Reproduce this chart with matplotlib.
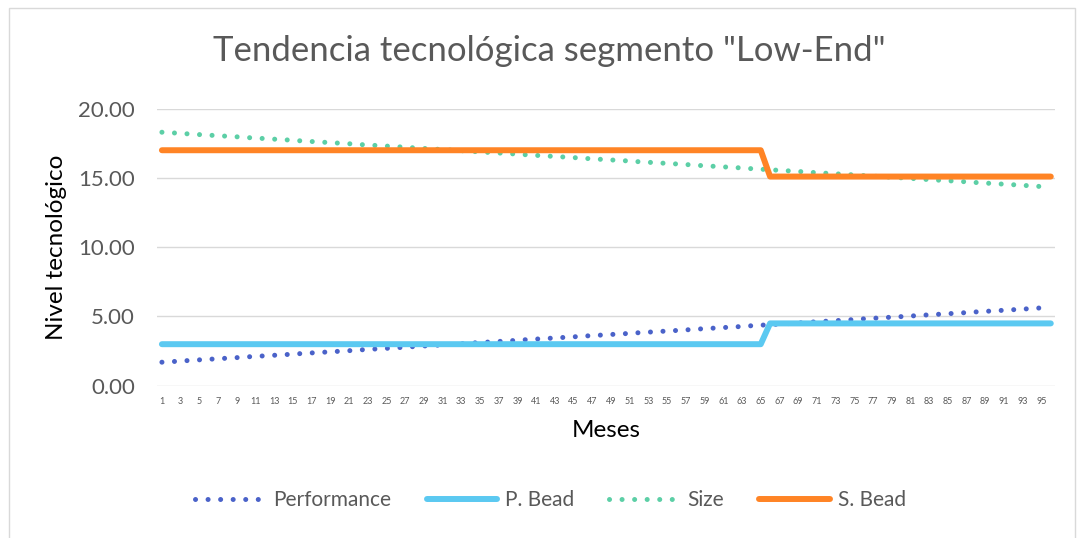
import numpy as np
import matplotlib.pyplot as plt
from matplotlib.patches import Rectangle

plt.rcParams['font.family'] = ['Lato', 'DejaVu Sans']

meses = list(range(1, 97))

performance = [
    1.70, 1.74, 1.78, 1.83, 1.87, 1.91, 1.95, 1.99, 2.03, 2.08, 2.12, 2.16,
    2.20, 2.24, 2.28, 2.33, 2.37, 2.41, 2.45, 2.49, 2.53, 2.58, 2.62, 2.66,
    2.70, 2.74, 2.78, 2.83, 2.87, 2.91, 2.95, 2.99, 3.03, 3.08, 3.12, 3.16,
    3.20, 3.24, 3.28, 3.33, 3.37, 3.41, 3.45, 3.49, 3.53, 3.58, 3.62, 3.66,
    3.70, 3.74, 3.78, 3.83, 3.87, 3.91, 3.95, 3.99, 4.03, 4.08, 4.12, 4.16,
    4.20, 4.24, 4.28, 4.33, 4.37, 4.41, 4.45, 4.49, 4.53, 4.58, 4.62, 4.66,
    4.70, 4.74, 4.78, 4.83, 4.87, 4.91, 4.95, 4.99, 5.03, 5.08, 5.12, 5.16,
    5.20, 5.24, 5.28, 5.33, 5.37, 5.41, 5.45, 5.49, 5.53, 5.58, 5.62, 5.66,
]

size = [
    18.30, 18.26, 18.22, 18.17, 18.13, 18.09, 18.05, 18.01, 17.97, 17.92, 17.88, 17.84,
    17.80, 17.76, 17.72, 17.67, 17.63, 17.59, 17.55, 17.51, 17.47, 17.42, 17.38, 17.34,
    17.30, 17.26, 17.22, 17.17, 17.13, 17.09, 17.05, 17.01, 16.97, 16.92, 16.88, 16.84,
    16.80, 16.76, 16.72, 16.67, 16.63, 16.59, 16.55, 16.51, 16.47, 16.42, 16.38, 16.34,
    16.30, 16.26, 16.22, 16.17, 16.13, 16.09, 16.05, 16.01, 15.97, 15.92, 15.88, 15.84,
    15.80, 15.76, 15.72, 15.67, 15.63, 15.59, 15.55, 15.51, 15.47, 15.42, 15.38, 15.34,
    15.30, 15.26, 15.22, 15.17, 15.13, 15.09, 15.05, 15.01, 14.97, 14.92, 14.88, 14.84,
    14.80, 14.76, 14.72, 14.67, 14.63, 14.59, 14.55, 14.51, 14.47, 14.42, 14.38, 14.34,
]

# bead: valor constante hasta el mes 65, luego salta
p_bead = [3.0] * 65 + [4.5] * 31
s_bead = [17.0] * 65 + [15.1] * 31

fig = plt.figure(figsize=(10.77, 5.38), dpi=100)
ax = fig.add_axes([0.146, 0.283, 0.834, 0.515])

dot = (0, (0.01, 2.5))
ax.plot(meses, performance, color='#4a62c9', lw=3.6, linestyle=dot,
        dash_capstyle='round', label='Performance')
ax.plot(meses, p_bead, color='#5bc9f1', lw=4.3, solid_capstyle='round',
        label='P. Bead')
ax.plot(meses, size, color='#5ccfa6', lw=3.6, linestyle=dot,
        dash_capstyle='round', label='Size')
ax.plot(meses, s_bead, color='#ff8425', lw=4.3, solid_capstyle='round',
        label='S. Bead')

ax.set_xlim(0.5, 96.5)
ax.set_ylim(0, 20)
ax.set_yticks([0, 5, 10, 15, 20])
ax.set_yticklabels(['%.2f' % v for v in [0, 5, 10, 15, 20]])
ax.set_xticks(meses[::2])
ax.set_xticklabels([str(m) for m in meses[::2]])
ax.tick_params(axis='y', labelsize=16, colors='#595959', length=0, pad=16)
ax.tick_params(axis='x', labelsize=6.5, colors='#595959', length=0, pad=8)
ax.grid(axis='y', color='#d9d9d9', lw=1)
ax.set_axisbelow(True)
for s in ax.spines.values():
    s.set_visible(False)

ax.set_xlabel('Meses', fontsize=17.5, color='black', labelpad=10)
ax.set_ylabel('Nivel tecnológico', fontsize=17.5, color='black', labelpad=8)
fig.text(0.51, 0.906, 'Tendencia tecnológica segmento "Low-End"',
         fontsize=25, color='#595959', ha='center', va='center')

leg = fig.legend(loc='center', bbox_to_anchor=(0.511, 0.07), ncol=4,
                 frameon=False, fontsize=15, handlelength=3.4,
                 columnspacing=1.7, handletextpad=0.35)
for t in leg.get_texts():
    t.set_color('#595959')

fig.patches.append(Rectangle((0.008, -0.01), 0.99, 0.995, transform=fig.transFigure,
                             fill=False, edgecolor='#d9d9d9', lw=1))

plt.savefig('out.png', dpi=100)
